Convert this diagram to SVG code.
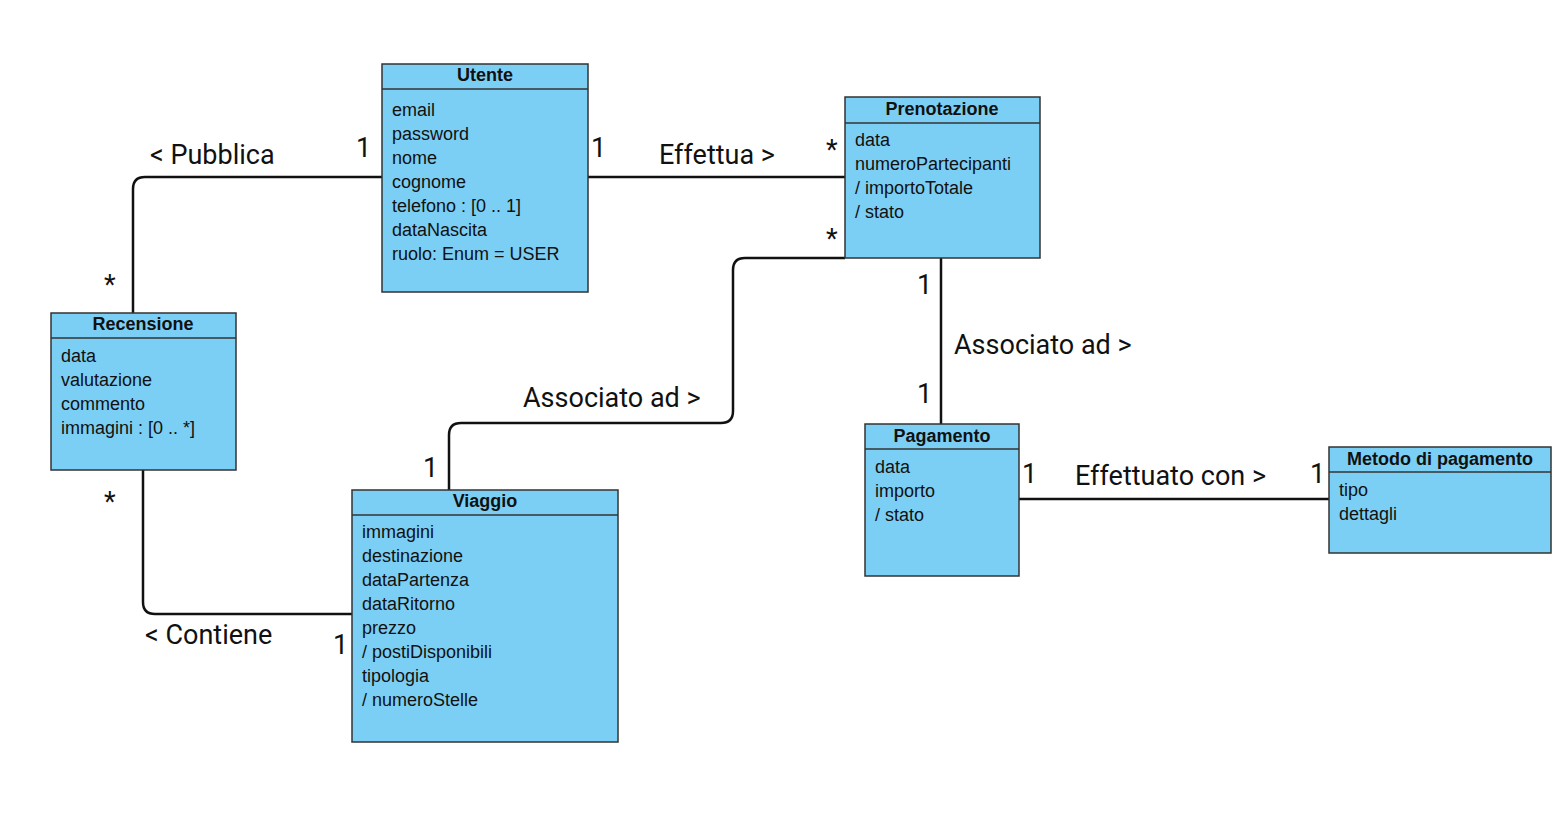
<svg xmlns="http://www.w3.org/2000/svg" width="1564" height="833" viewBox="0 0 1564 833">
<style>
.box{fill:#7ccff4;stroke:#333;stroke-width:1.5}
.hd{stroke:#333;stroke-width:1.5}
.t{font-family:"Liberation Sans",Arial,sans-serif;font-size:18px;font-weight:bold;fill:#111;text-anchor:middle}
.a{font-family:"Liberation Sans",Arial,sans-serif;font-size:18px;fill:#111}
.c{fill:none;stroke:#111;stroke-width:2.5}
.l{font-family:Roboto,"Liberation Sans",sans-serif;font-size:27px;fill:#111}
</style>
<rect width="1564" height="833" fill="#fff"/>
<g id="connectors">
<path class="c" d="M382,177 H145 Q133,177 133,189 V313"/>
<path class="c" d="M588,177 H845"/>
<path class="c" d="M845,258 H745 Q733,258 733,270 V411 Q733,423 721,423 H461 Q449,423 449,435 V490"/>
<path class="c" d="M143,470 V602 Q143,614 155,614 H352"/>
<path class="c" d="M941,258 V424"/>
<path class="c" d="M1019,499 H1329"/>
</g>
<g id="labels">
<text class="l" x="150" y="164">&lt; Pubblica</text>
<text class="l" x="356" y="157">1</text>
<text class="l" x="104" y="294">*</text>
<text class="l" x="591" y="157">1</text>
<text class="l" x="659" y="164">Effettua &gt;</text>
<text class="l" x="826" y="159">*</text>
<text class="l" x="826" y="248">*</text>
<text class="l" x="917" y="294">1</text>
<text class="l" x="954" y="354">Associato ad &gt;</text>
<text class="l" x="917" y="403">1</text>
<text class="l" x="523" y="407">Associato ad &gt;</text>
<text class="l" x="423" y="477">1</text>
<text class="l" x="104" y="511">*</text>
<text class="l" x="145" y="644">&lt; Contiene</text>
<text class="l" x="333" y="654">1</text>
<text class="l" x="1022" y="483">1</text>
<text class="l" x="1075" y="485">Effettuato con &gt;</text>
<text class="l" x="1310" y="483">1</text>
</g>
<g id="Utente">
<rect class="box" x="382" y="64" width="206" height="228"/>
<line class="hd" x1="382" y1="89" x2="588" y2="89"/>
<text class="t" x="485" y="81">Utente</text>
<text class="a" x="392" y="116">email</text>
<text class="a" x="392" y="140">password</text>
<text class="a" x="392" y="164">nome</text>
<text class="a" x="392" y="188">cognome</text>
<text class="a" x="392" y="212">telefono : [0 .. 1]</text>
<text class="a" x="392" y="236">dataNascita</text>
<text class="a" x="392" y="260">ruolo: Enum = USER</text>
</g>
<g id="Prenotazione">
<rect class="box" x="845" y="97" width="195" height="161"/>
<line class="hd" x1="845" y1="123" x2="1040" y2="123"/>
<text class="t" x="942" y="115">Prenotazione</text>
<text class="a" x="855" y="146">data</text>
<text class="a" x="855" y="170">numeroPartecipanti</text>
<text class="a" x="855" y="194">/ importoTotale</text>
<text class="a" x="855" y="218">/ stato</text>
</g>
<g id="Recensione">
<rect class="box" x="51" y="313" width="185" height="157"/>
<line class="hd" x1="51" y1="338" x2="236" y2="338"/>
<text class="t" x="143" y="330">Recensione</text>
<text class="a" x="61" y="362">data</text>
<text class="a" x="61" y="386">valutazione</text>
<text class="a" x="61" y="410">commento</text>
<text class="a" x="61" y="434">immagini : [0 .. *]</text>
</g>
<g id="Viaggio">
<rect class="box" x="352" y="490" width="266" height="252"/>
<line class="hd" x1="352" y1="515" x2="618" y2="515"/>
<text class="t" x="485" y="507">Viaggio</text>
<text class="a" x="362" y="538">immagini</text>
<text class="a" x="362" y="562">destinazione</text>
<text class="a" x="362" y="586">dataPartenza</text>
<text class="a" x="362" y="610">dataRitorno</text>
<text class="a" x="362" y="634">prezzo</text>
<text class="a" x="362" y="658">/ postiDisponibili</text>
<text class="a" x="362" y="682">tipologia</text>
<text class="a" x="362" y="706">/ numeroStelle</text>
</g>
<g id="Pagamento">
<rect class="box" x="865" y="424" width="154" height="152"/>
<line class="hd" x1="865" y1="449" x2="1019" y2="449"/>
<text class="t" x="942" y="442">Pagamento</text>
<text class="a" x="875" y="473">data</text>
<text class="a" x="875" y="497">importo</text>
<text class="a" x="875" y="521">/ stato</text>
</g>
<g id="MetodoDiPagamento">
<rect class="box" x="1329" y="447" width="222" height="106"/>
<line class="hd" x1="1329" y1="472" x2="1551" y2="472"/>
<text class="t" x="1440" y="465">Metodo di pagamento</text>
<text class="a" x="1339" y="496">tipo</text>
<text class="a" x="1339" y="520">dettagli</text>
</g>
</svg>
